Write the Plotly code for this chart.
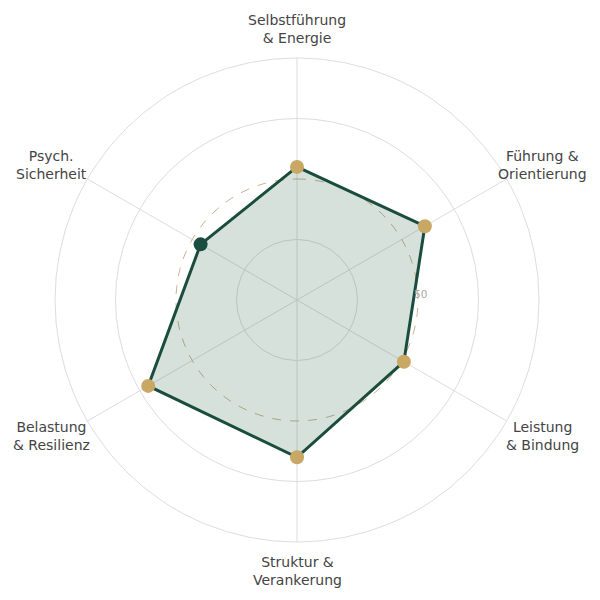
import math
import plotly.graph_objects as go

# dimensions (clockwise from top)
categories = [
    "Selbstführung<br>& Energie",
    "Führung &<br>Orientierung",
    "Leistung<br>& Bindung",
    "Struktur &<br>Verankerung",
    "Belastung<br>& Resilienz",
    "Psych.<br>Sicherheit",
]
scores = [55, 61, 51, 65, 71, 46]
threshold = 50

green = "#1b4d3e"
gold = "#c9a764"
grid = "#dddddd"
marker_colors = [gold if s >= threshold else green for s in scores]

n = len(categories)
step = 360 / n
n_ref = 120
ref_theta = [i * 360 / n_ref for i in range(n_ref + 1)]

fig = go.Figure()

# dashed reference circle at 50 (bottom polar, below the data)
fig.add_trace(go.Scatterpolar(
    r=[threshold] * len(ref_theta),
    theta=ref_theta,
    mode="lines",
    line=dict(color="rgba(195,165,125,0.85)", width=1, dash="dash"),
    hoverinfo="skip",
    showlegend=False,
    subplot="polar",
))

fig.add_trace(go.Scatterpolar(
    r=scores + scores[:1],
    theta=categories + categories[:1],
    mode="lines",
    fill="toself",
    fillcolor="rgba(27,90,62,0.18)",
    line=dict(color=green, width=3),
    showlegend=False,
    subplot="polar2",
))

fig.add_trace(go.Scatterpolar(
    r=scores,
    theta=categories,
    mode="markers",
    marker=dict(size=14, color=marker_colors),
    showlegend=False,
    subplot="polar2",
))

# category labels, centred outside the outer ring
label_rx = 284 / 484
label_ry = 271 / 484
annotations = []
for i, txt in enumerate(categories):
    a = math.radians(90 - i * step)
    annotations.append(dict(
        x=0.5 + label_rx * math.cos(a), y=0.5 + label_ry * math.sin(a),
        xref="paper", yref="paper",
        text=txt, showarrow=False,
        xanchor="center", yanchor="middle",
        font=dict(size=14, color="#444444"),
    ))

# label of the 50 ring
annotations.append(dict(
    x=0.5 + 0.5 * threshold / 100, y=0.5, xref="paper", yref="paper",
    text="50", showarrow=False, xshift=11, yshift=6,
    font=dict(size=10.5, color="#aaaaaa"),
))

dom = dict(x=[0, 1], y=[0, 1])

fig.update_layout(
    width=600,
    height=600,
    paper_bgcolor="white",
    plot_bgcolor="white",
    font=dict(family="DejaVu Sans", color="#444444"),
    margin=dict(l=47, r=69, t=50, b=66),
    annotations=annotations,
    polar=dict(
        domain=dom,
        bgcolor="white",
        radialaxis=dict(
            range=[0, 100],
            tickvals=[25, 75, 100],
            showticklabels=False,
            showline=False,
            ticks="",
            gridcolor=grid,
        ),
        angularaxis=dict(
            direction="clockwise",
            rotation=90,
            tickmode="linear",
            tick0=0,
            dtick=step,
            showticklabels=False,
            ticks="",
            gridcolor=grid,
            linecolor=grid,
            showline=True,
        ),
    ),
    polar2=dict(
        domain=dom,
        bgcolor="rgba(0,0,0,0)",
        radialaxis=dict(
            range=[0, 100],
            showticklabels=False,
            showgrid=False,
            showline=False,
            ticks="",
        ),
        angularaxis=dict(
            direction="clockwise",
            rotation=90,
            showgrid=False,
            showline=False,
            showticklabels=False,
            ticks="",
        ),
    ),
)

fig.write_html("out.html")
